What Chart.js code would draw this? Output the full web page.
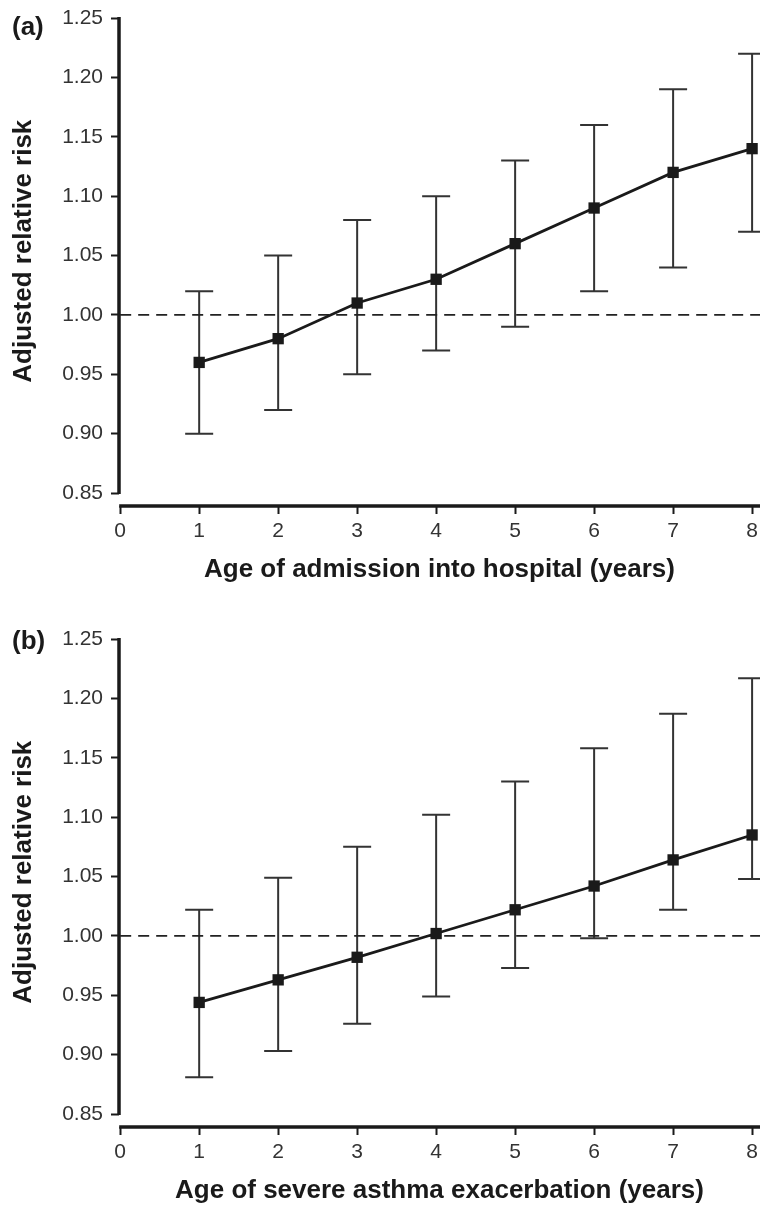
<!DOCTYPE html>
<html>
<head>
<meta charset="utf-8">
<script src="https://cdn.jsdelivr.net/npm/chart.js@4.4.1/dist/chart.umd.min.js"></script>
<style>
  html, body { margin: 0; padding: 0; background: #fff; }
  body { width: 760px; height: 1212px; position: relative; overflow: hidden; }
  .panel { position: absolute; left: 0; width: 760px; height: 591px; }
  .tag { position: absolute; left: 12px; font: bold 26px "Liberation Sans", Arial, sans-serif; color: #1a1a1a; line-height: 30px; }
</style>
</head>
<body>
<div class="panel" style="top:0"><canvas id="chartA" width="760" height="591"></canvas></div>
<div class="panel" style="top:621px"><canvas id="chartB" width="760" height="591"></canvas></div>
<div class="tag" style="top:11px">(a)</div>
<div class="tag" style="top:625px">(b)</div>
<script>
// data
const ages = [1, 2, 3, 4, 5, 6, 7, 8];
const xTicks = [0, 1, 2, 3, 4, 5, 6, 7, 8];
const yTicks = [0.85, 0.90, 0.95, 1.00, 1.05, 1.10, 1.15, 1.20, 1.25];
const refLine = 1.0;

// (a) admission into hospital
const rrAdmission = [0.96, 0.98, 1.01, 1.03, 1.06, 1.09, 1.12, 1.14];
const lowAdmission = [0.90, 0.92, 0.95, 0.97, 0.99, 1.02, 1.04, 1.07];
const highAdmission = [1.02, 1.05, 1.08, 1.10, 1.13, 1.16, 1.19, 1.22];

// (b) severe asthma exacerbation
const rrExacerbation = [0.944, 0.963, 0.982, 1.002, 1.022, 1.042, 1.064, 1.085];
const lowExacerbation = [0.881, 0.903, 0.926, 0.949, 0.973, 0.998, 1.022, 1.048];
const highExacerbation = [1.022, 1.049, 1.075, 1.102, 1.130, 1.158, 1.187, 1.217];

const X_MIN = -0.015, X_MAX = 8.1;
const Y_MIN = 0.8391, Y_MAX = 1.25;
const PANEL_H = 591;
const INK = "#1a1a1a";

// whiskers drawn under the line
const errorBars = {
  id: "errorBars",
  beforeDatasetsDraw(chart, args, opts) {
    const { ctx, scales: { x, y } } = chart;
    ctx.save();
    ctx.strokeStyle = "#333";
    ctx.lineWidth = 2;
    opts.low.forEach((lo, i) => {
      const px = x.getPixelForValue(ages[i]);
      const yl = y.getPixelForValue(lo);
      const yh = y.getPixelForValue(opts.high[i]);
      ctx.beginPath();
      ctx.moveTo(px, yl); ctx.lineTo(px, yh);
      ctx.moveTo(px - 14, yl); ctx.lineTo(px + 14, yl);
      ctx.moveTo(px - 14, yh); ctx.lineTo(px + 14, yh);
      ctx.stroke();
    });
    ctx.restore();
  },
};

// detached axis lines (R style)
const axisLines = {
  id: "axisLines",
  afterDraw(chart) {
    const { ctx, chartArea, scales: { x, y } } = chart;
    ctx.save();
    ctx.strokeStyle = INK;
    ctx.lineWidth = 3.5;
    ctx.beginPath();
    ctx.moveTo(chartArea.left, y.getPixelForValue(yTicks[yTicks.length - 1]) - 1);
    ctx.lineTo(chartArea.left, y.getPixelForValue(yTicks[0]) + 1);
    ctx.moveTo(x.getPixelForValue(xTicks[0]) - 1, chartArea.bottom);
    ctx.lineTo(chartArea.right, chartArea.bottom);
    ctx.stroke();
    ctx.restore();
  },
};

const makeChart = (canvas, rr, low, high, xTitle) => new Chart(canvas, {
  type: "line",
  data: {
    datasets: [
      {
        data: ages.map((a, i) => ({ x: a, y: rr[i] })),
        borderColor: INK,
        borderWidth: 2.8,
        pointStyle: "rect",
        pointRadius: 8,
        pointBackgroundColor: INK,
        pointBorderWidth: 0,
        tension: 0,
      },
      {
        data: [{ x: xTicks[0], y: refLine }, { x: X_MAX, y: refLine }],
        borderColor: "#222",
        borderWidth: 1.8,
        borderDash: [11, 7],
        pointRadius: 0,
      },
    ],
  },
  options: {
    responsive: false,
    animation: false,
    devicePixelRatio: 1,
    layout: { autoPadding: false, padding: { top: 18, right: 0, bottom: 0, left: 0 } },
    plugins: {
      legend: { display: false },
      tooltip: { enabled: false },
      errorBars: { low, high },
    },
    scales: {
      x: {
        type: "linear",
        min: X_MIN,
        max: X_MAX,
        afterBuildTicks: (s) => { s.ticks = xTicks.map((v) => ({ value: v })); },
        afterFit: (s) => { s.height = PANEL_H - 506; s.paddingLeft = 0; s.paddingRight = 0; },
        grid: { drawOnChartArea: false, drawTicks: true, tickLength: 8, tickWidth: 2, tickColor: INK },
        border: { display: false },
        ticks: { color: "#333", padding: 5, font: { family: "Liberation Sans", size: 21 }, maxRotation: 0 },
        title: {
          display: true,
          text: xTitle,
          color: INK,
          font: { family: "Liberation Sans", size: 26, weight: "bold" },
          padding: { top: 0, bottom: 6 },
        },
      },
      y: {
        min: Y_MIN,
        max: Y_MAX,
        afterBuildTicks: (s) => { s.ticks = yTicks.map((v) => ({ value: v })); },
        afterFit: (s) => { s.width = 119; s.paddingTop = 0; s.paddingBottom = 0; },
        grid: { drawOnChartArea: false, drawTicks: true, tickLength: 8, tickWidth: 2, tickColor: INK },
        border: { display: false },
        ticks: {
          color: "#333",
          padding: 8,
          font: { family: "Liberation Sans", size: 21 },
          callback: (v) => v.toFixed(2),
        },
        title: {
          display: true,
          // leading spaces nudge the centred label upwards, as in the original
          text: "   Adjusted relative risk",
          color: INK,
          font: { family: "Liberation Sans", size: 26, weight: "bold" },
          padding: { top: 8, bottom: 0 },
        },
      },
    },
  },
  plugins: [errorBars, axisLines],
});

makeChart(document.getElementById("chartA"), rrAdmission, lowAdmission, highAdmission,
  "Age of admission into hospital (years)");
makeChart(document.getElementById("chartB"), rrExacerbation, lowExacerbation, highExacerbation,
  "Age of severe asthma exacerbation (years)");
</script>
</body>
</html>
